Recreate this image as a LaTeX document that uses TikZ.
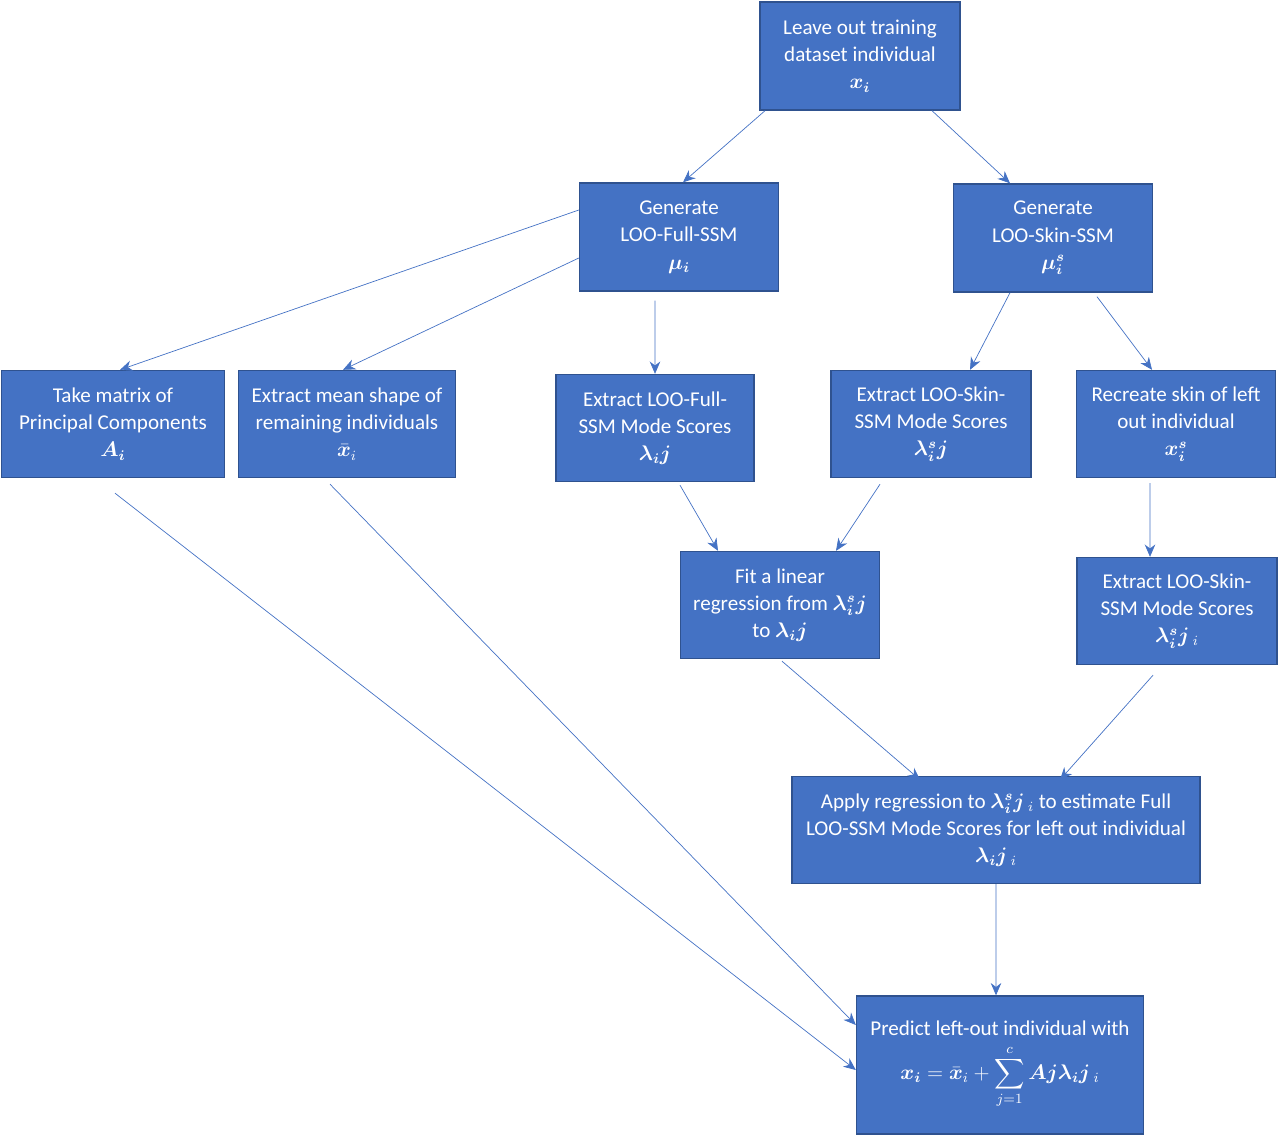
\documentclass[tikz,border=0pt]{standalone}
\usepackage{amsmath}
\usepackage{bm}
\usepackage{fontspec}
\setmainfont{Carlito}
\usetikzlibrary{arrows.meta}
\definecolor{boxblue}{HTML}{4472C4}
\definecolor{boxedge}{HTML}{2F528F}
\tikzset{font={\fontsize{12}{15.5}\selectfont}}
\tikzstyle{stepbox} = [draw=boxedge, thick, fill=boxblue, text=white, align=center, inner sep=2pt]
\tikzstyle{link} = [draw=boxblue, -{Stealth[length=7pt,width=6pt]}]

\begin{document}
\begin{tikzpicture}[x=0.02cm, y=-0.02cm]
  \useasboundingbox (0,0) rectangle (1280,1138);

  \node[stepbox, minimum width=4cm, minimum height=2.16cm] (leave) at (860,56)
    {Leave out training\\dataset individual\\$\bm{x_i}$};
  \node[stepbox, minimum width=3.98cm, minimum height=2.16cm] (full) at (679,237)
    {Generate\\LOO-Full-SSM\\$\bm{\mu_i}$};
  \node[stepbox, minimum width=3.98cm, minimum height=2.16cm] (skin) at (1053,238)
    {Generate\\LOO-Skin-SSM\\$\bm{\mu_i^s}$};

  \node[stepbox, minimum width=4.46cm, minimum height=2.14cm] (pcs) at (113,424)
    {Take matrix of\\Principal Components\\$\bm{A_i}$};
  \node[stepbox, minimum width=4.34cm, minimum height=2.14cm] (mean) at (347,424)
    {Extract mean shape of\\remaining individuals\\$\bar{\bm{x}}_i$};
  \node[stepbox, minimum width=3.96cm, minimum height=2.14cm] (fullsc) at (655,428)
    {Extract LOO-Full-\\SSM Mode Scores\\$\bm{\lambda_i j}$};
  \node[stepbox, minimum width=4cm, minimum height=2.14cm] (skinsc) at (931,424)
    {Extract LOO-Skin-\\SSM Mode Scores\\$\bm{\lambda_i^s j}$};
  \node[stepbox, minimum width=3.98cm, minimum height=2.14cm] (recr) at (1176,424)
    {Recreate skin of left\\out individual\\$\bm{x_i^s}$};

  \node[stepbox, minimum width=3.98cm, minimum height=2.14cm] (fit) at (780,605)
    {Fit a linear\\regression from $\bm{\lambda_i^s j}$\\to $\bm{\lambda_i j}$};
  \node[stepbox, minimum width=4cm, minimum height=2.14cm] (skinsc2) at (1177,611)
    {Extract LOO-Skin-\\SSM Mode Scores\\$\bm{\lambda_i^s j}_{\ i}$};

  \node[stepbox, minimum width=8.16cm, minimum height=2.14cm] (apply) at (996,830)
    {Apply regression to $\bm{\lambda_i^s j}_{\ i}$ to estimate Full\\LOO-SSM Mode Scores for left out individual\\$\bm{\lambda_i j}_{\ i}$};
  \node[stepbox, minimum width=5.74cm, minimum height=2.76cm] (pred) at (1000,1065)
    {Predict left-out individual with\\[4pt]$\displaystyle \bm{x_i}=\bar{\bm{x}}_i+\sum_{j=1}^{c}\bm{Aj\lambda_i j}_{\ i}$};

  % connectors
  \draw[link] ([xshift=-1.9cm]leave.south) -- ([xshift=0.08cm]full.north);
  \draw[link] ([xshift=1.44cm]leave.south) -- ([xshift=-0.86cm]skin.north);
  \draw[link] ([yshift=0.54cm]full.west) -- ([xshift=0.14cm]pcs.north);
  \draw[link] ([yshift=-0.42cm]full.west) -- ([xshift=-0.08cm]mean.north);
  \draw[link] ([xshift=-0.48cm,yshift=-0.18cm]full.south) -- (fullsc.north);
  \draw[link] ([xshift=-0.86cm]skin.south) -- ([xshift=0.78cm]skinsc.north);
  \draw[link] ([xshift=0.88cm,yshift=-0.08cm]skin.south) -- ([xshift=-0.48cm]recr.north);
  \draw[link] ([xshift=0.5cm,yshift=-0.06cm]fullsc.south) -- ([xshift=-1.24cm]fit.north);
  \draw[link] ([xshift=-1.02cm,yshift=-0.12cm]skinsc.south) -- ([xshift=1.12cm]fit.north);
  \draw[link] ([xshift=-0.52cm,yshift=-0.1cm]recr.south) -- ([xshift=-0.54cm]skinsc2.north);
  \draw[link] ([xshift=0.04cm,yshift=-0.04cm]fit.south) -- ([xshift=-1.52cm,yshift=-0.08cm]apply.north);
  \draw[link] ([xshift=-0.48cm,yshift=-0.2cm]skinsc2.south) -- ([xshift=1.28cm,yshift=-0.08cm]apply.north);
  \draw[link] (apply.south) -- ([xshift=-0.08cm]pred.north);
  \draw[link] ([xshift=0.04cm,yshift=-0.3cm]pcs.south) -- ([yshift=-0.1cm]pred.west);
  \draw[link] ([xshift=-0.34cm,yshift=-0.12cm]mean.south) -- ([yshift=0.8cm]pred.west);
\end{tikzpicture}
\end{document}
